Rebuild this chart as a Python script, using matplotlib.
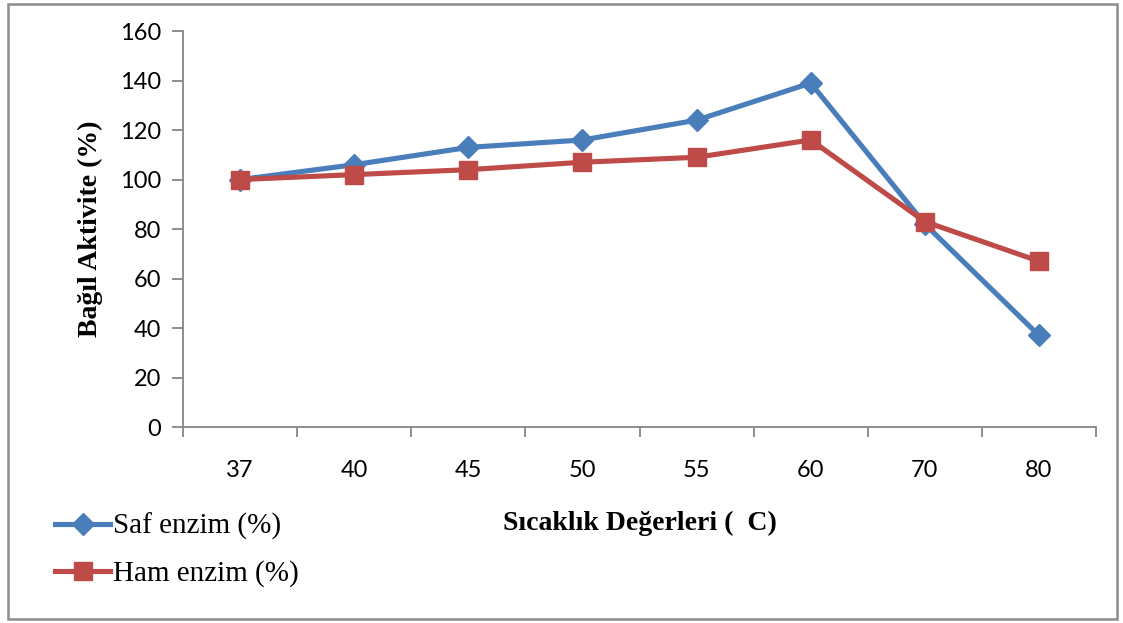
import matplotlib.pyplot as plt
from matplotlib.patches import Rectangle
from matplotlib.ticker import FixedLocator

# sicaklik degerleri ve bagil aktivite
sicaklik = ['37', '40', '45', '50', '55', '60', '70', '80']
saf_enzim = [100, 106, 113, 116, 124, 139, 82, 37]
ham_enzim = [100, 102, 104, 107, 109, 116, 83, 67]

fig = plt.figure(figsize=(11.23, 6.23), dpi=100)
ax = fig.add_axes([0.163, 0.3146, 0.813, 0.6355])

x = range(len(sicaklik))
ax.plot(x, saf_enzim, color='#4A7EBB', lw=3.7, marker='D', ms=11,
        label='Saf enzim (%)')
ax.plot(x, ham_enzim, color='#BE4B48', lw=3.7, marker='s', ms=13,
        label='Ham enzim (%)')

ax.set_xlim(-0.5, len(sicaklik) - 0.5)
ax.set_ylim(0, 160)
ax.set_yticks(range(0, 161, 20))
ax.set_xticks(list(x))
ax.set_xticklabels(sicaklik)
ax.xaxis.set_minor_locator(FixedLocator([i - 0.5 for i in range(len(sicaklik) + 1)]))
ax.tick_params(axis='x', which='major', length=0, pad=24)
ax.tick_params(axis='x', which='minor', length=7, width=1.3, color='#868686')
ax.tick_params(axis='y', length=8, width=1.3, color='#868686', pad=8)

for lbl in ax.get_xticklabels() + ax.get_yticklabels():
    lbl.set_fontfamily('Lato')
    lbl.set_fontsize(17)

for s in ['top', 'right']:
    ax.spines[s].set_visible(False)
for s in ['left', 'bottom']:
    ax.spines[s].set_color('#868686')
    ax.spines[s].set_linewidth(1.3)

ax.set_ylabel('Bağıl Aktivite (%)', family='Liberation Serif',
              fontsize=20, fontweight='bold', labelpad=12)
fig.text(0.57, 0.16, 'Sıcaklık Değerleri (  C)', family='Liberation Serif',
         fontsize=20, fontweight='bold', ha='center', va='center')

leg = ax.legend(loc='center left', bbox_to_anchor=(0.049, 0.117),
                bbox_transform=fig.transFigure, frameon=False,
                borderpad=0, borderaxespad=0,
                prop={'family': 'Liberation Serif', 'size': 21},
                handlelength=1.9, handletextpad=0.1, labelspacing=0.7)

# dis cerceve
fig.patches.append(Rectangle((8 / 1123, 4 / 623), 1109 / 1123, 615 / 623,
                             transform=fig.transFigure, fill=False,
                             edgecolor='#8C8C8C', lw=1.8))

plt.savefig('out.png', dpi=100)
